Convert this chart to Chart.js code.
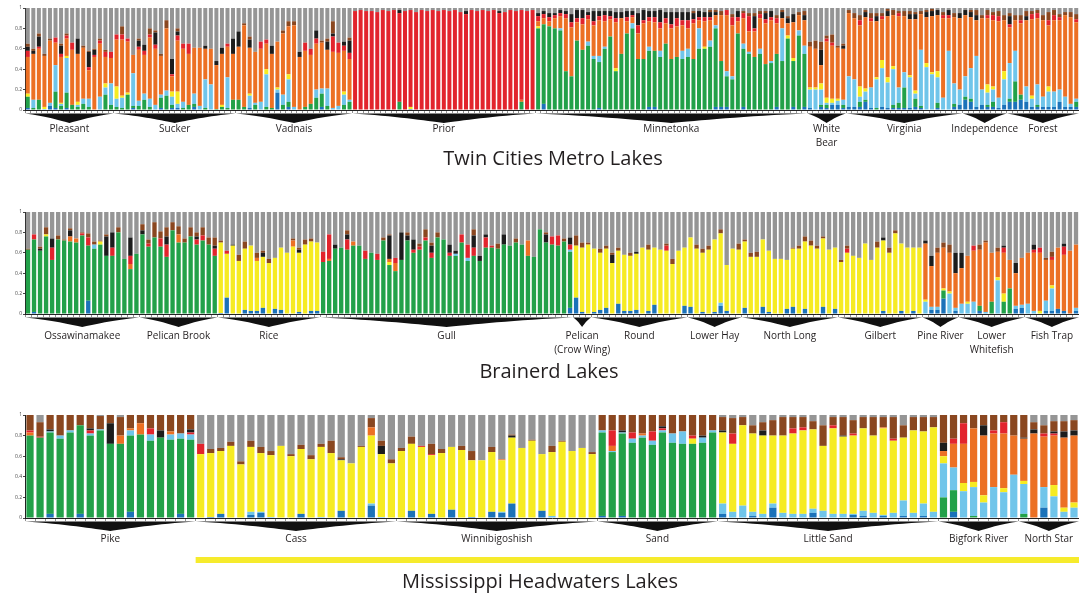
<!DOCTYPE html>
<html>
<head>
<meta charset="utf-8">
<script src="https://cdn.jsdelivr.net/npm/chart.js@4.4.1/dist/chart.umd.min.js"></script>
<style>
  html, body { margin: 0; padding: 0; background: #fff; }
  #wrap { position: relative; width: 1079px; height: 595px; overflow: hidden; }
  canvas { position: absolute; left: 0; }
</style>
</head>
<body>
<div id="wrap">
  <canvas id="metro" width="1079" height="185" style="top:0"></canvas>
  <canvas id="brainerd" width="1079" height="200" style="top:190px"></canvas>
  <canvas id="headwaters" width="1079" height="200" style="top:395px"></canvas>
</div>
<script>
// membership per cluster, in percent, one inner array per lake (missing entries are 0)
// the grey cluster is whatever is left of each fish's 100%

// ---- Twin Cities Metro Lakes ----
const metroLakes = ["Pleasant", "Sucker", "Vadnais", "Prior", "Minnetonka", "White\nBear", "Virginia", "Independence", "Forest"];
const metroCounts = [16, 22, 21, 33, 49, 7, 21, 8, 13];
const metroDarkBlue = [
  [2,0,0,0,4,2,0,2],
  [0,0,0,2,0,0,0,0,2,0,2,2,0,0,3],
  [0,0,2,0,0,0,0,17,0,3,0,0,0,0,0,3],
  [0,0,0,0,0,0,0,0,0,0,1],
  [0,6,0,0,0,0,0,0,0,0, 0,2,0,0,0,0,0,0,0,0, 3,3,0,0,0,0,0,0,0,0, 0,0,3,3,3,0,0,3,0,0, 0,0,0,3,0,0,3,0,3],
  [2,0,3,2,5,5,2],
  [3,3,3,8,2,0,3,2,2,2,2,2,3,2,0,0,2,0,0,3,5],
  [10,8,3,5,3,3,2,5],
  [8,8,10,8,3,3,3,3,3,8,3,3,3]
];
const metroGreen = [
  [11,2,10,0,0,16,4,15,5,3,6,3,0,0,15,5],
  [3,2,15,2,4,10,3,0,10,14,3,0,2,5,3,0,2,0,1,3,2,10],
  [10,3,0,5,0,3,2,0,5,5,0,0,3,6,12,13,4,0,0,5,8],
  [0,0,0,0,0,0,0,0,8,0, 0,0,0,0,0,0,0,0,0,0, 0,0,0,0,0,0,0,0,0,0, 8],
  [80,78,82,80,78,38,33,68,59,63,50,45,60,72,38,55,75,80,50,50,55,55,52,65,50,52,50,52,50,60,60,62,77,45,30,30,75,57,55,52,55,45,46,52,48,70,45,73,52],
  [0,0,2,3,0,0,3],
  [0,0,5,2,0,2,0,0,3,5,20,0,8,2,0,0,5,0,0,3,0],
  [3,3,0,0,2,5,0,0],
  [3,20,5,0,0,2,0,0,0,0,0,0,5]
];
const metroLightBlue = [
  [0,8,0,1,3,26,2,34,0,2,5,8,0,13,7,21],
  [8,10,0,32,5,6,8,5,3,5,8,4,6,0,10,4,28,25,0,0,30,0],
  [0,0,12,2,8,32,0,3,10,22,3,0,0,0,8,5,17,2,4,10,2],
  [],
  [0,0,0,0,2,0,0,0,0,4,3,6,2,0,0,0,0,5,0,0,4,0,6,0,0,0,8,8,0,20,0,6,3,0,5,3,0,5,2,0,5,0,2,0,32,0,0,5,8],
  [18,20,15,2,2,4,5],
  [30,27,5,8,20,28,38,25,35,15,15,30,5,55,42,35,25,12,58,20,15],
  [20,30,50,15,12,12,10,25],
  [35,30,0,15,8,20,10,15,15,12,10,3,3]
];
const metroYellow = [
  [3,0,0,2,0,0,1,2,0,3,0,0,0,0,4],
  [12,2,2,0,0,0,0,0,0,0,5,12,0,0,0,0,0,0,0,2],
  [0,0,2,0,0,5,0,2,0,5,0,0,0,0,0,0,0,0,0,3],
  [0,0,0,0,0,0,0,0,0,0,2],
  [2,0,0,0,0,0,0,0,0,0, 0,0,0,0,3,0,0,0,0,0, 0,0,0,0,0,0,0,0,0,0, 2,0,0,0,0,0,0,0,0,0, 0,0,0,0,0,3,3],
  [2,2,6,5,4,2,0],
  [0,0,10,3,0,2,8,5,3,0,0,2,3,0,4,2,6],
  [0,0,0,0,8,3,0,8],
  [0,0,0,0,3,0,0,5]
];
const metroOrange = [
  [36,45,50,50,61,22,45,17,54,47,50,28,52,52,26,25],
  [46,55,50,18,50,38,60,55,38,61,15,50,52,50,45,57,30,35,43,50,30,45],
  [52,80,45,50,52,25,53,45,60,47,80,52,55,48,45,45,38,55,52,40,40],
  [0,0,0,0,0,0,0,0,0,0, 0,0,0,0,0,0,0,0,0,0, 0,0,0,0,0,0,0,0,0,0, 2],
  [5,6,5,10,12,52,48,18,25,22,30,35,25,17,45,35,12,6,25,35,25,28,22,20,30,30,25,20,35,8,25,20,10,45,55,50,12,25,20,25,30,40,40,30,10,12,35,15,25],
  [40,38,18,55,52,50,50],
  [62,60,60,70,65,55,40,60,50,70,55,55,70,35,45,55,55,78,32,65,70],
  [60,50,35,70,65,65,75,50],
  [35,30,70,65,75,65,75,60,70,68,80,85,75]
];
const metroRed = [
  [6,0,2,0,0,5,3,3,7,0,0,3,2,3,5,6],
  [5,5,3,0,3,4,3,4,0,0,2,5,5,10,0,0,0,0,0,0,3],
  [0,0,0,0,7,4,0,0,0,0,0,0,8,6,5,0,0,15,10,5,6],
  [97,98,97,97,96,98,97,98,87,97,95,96,98,97,98,97,98,97,98,96,94,98,97,98,97,98,95,96,98,97,88,97,98],
  [5,4,4,3,3,4,5,4,6,4,4,4,6,3,4,0,4,2,8,3,4,5,6,5,4,8,5,8,4,3,4,3,0,0,5,8,4,5,15,3,4,4,3,5],
  [0,0,0,3,3],
  [0,0,5,0,3,0,3,0,0,3,0,0,0,0,0,0,0,3,3],
  [0,0,0,0,3,5,5],
  [3,0,3,0,5,5,0,5,5,3,0,0,3]
];
const metroBlack = [
  [4,3,10,0,0,0,8,0,0,15,0,15,5],
  [0,0,0,0,6,6,0,12,0,0,15,4,0,0,0,0,3,0,4,6,0,15],
  [15,0,8,0,0,0,8,0,0,0,0,5,0,0,8,0,8,3,0,4,12],
  [0,0,0,0,0,0,0,0,3,0, 0,0,0,0,0,0,0,0,0,0, 3,0,0,0,0,0,2],
  [3,3,4,2,3,3,8,8,8,3,10,5,4,5,6,6,6,4,12,10,6,6,12,6,12,6,8,8,6,6,5,5,3,0,0,0,6,0,0,12,0,6,6,0,6,5,8,0,5],
  [0,0,15,0,0,0,3],
  [0,0,0,5,0,5,0,5,0,0,0,5,5,0,5,5,5,0,5,0,5],
  [5,5,5],
  [8,0,0,4]
];
const metroBrown = [
  [3,2,3,2,2,0,2,2,0,0,2,1,1,2,2],
  [0,8,0,0,2,0,6,2,2,8,0,3],
  [0,2,3,0,0,0,0,0,3,5,4,0,0,0,0,2,3,12,0,0,3],
  [],
  [0,0,0,0,0,0,0,0,0,0, 0,0,0,0,0,0,0,0,0,0, 0,0,0,0,0,0,0,0,2,0, 0,2,2,4,0,3,0,2,3,3, 3,2,0,3,2,2,0,3,4],
  [5,8,8,3,8,2,2],
  [3,5,5,2,5,3,3,2,5,2,5,3,2,3,2,2,0,3,0,4,0],
  [0,2,5,3,5,3,5,5],
  [3,5,5,5,3,3,5,8,5,3,3,5,5]
];

// ---- Brainerd Lakes ----
const brainerdLakes = ["Ossawinamakee", "Pelican Brook", "Rice", "Gull", "Pelican\n(Crow Wing)", "Round", "Lower Hay", "North Long", "Gilbert", "Pine River", "Lower\nWhitefish", "Fish Trap"];
const brainerdCounts = [19, 13, 17, 42, 3, 16, 9, 16, 14, 6, 11, 9];
const brainerdDarkBlue = [
  [0,2,0,0,0,0,0,0,0,0,13],
  [],
  [1,16,0,0,4,3,3,6,0,5,4,0,0,2,0,3,3],
  [0,0,0,0,0,0,0,0,0,0, 0,0,0,0,0,0,0,0,0,0, 0,0,0,0,0,0,0,0,0,0, 0,0,0,0,0,0,0,0,0,0, 0,6],
  [16,2,0],
  [2,4,6,0,10,3,3,4,0,3,9,0,0,0,0,8],
  [7,0,2,0,2,8,3,0,0],
  [6,0,0,7,2,0,0,5,7,0,5,0,0,7,0,5],
  [0,0,0,0,0,0,0,3,0,0,3,0,3,0],
  [0,4,4,15,0,3],
  [0,0,0,3,0,0,0,0,0,5,6],
  [0,0,0,3,3,5,3,0,3]
];
const brainerdGreen = [
  [63,71,62,76,53,73,72,71,70,77,54,64,68,57,57,80,54,44,59],
  [78,66,75,66,56,82,70,70,76,68,72,68,57],
  [],
  [51,52,64,65,63,67,67,54,60,53,72,48,42,53,72,60,63,72,55,75,73,57,57,70,52,57,52,65,65,64,68,67,70,68,57,56,83,70,68,67,71,55],
  [], [], [], [], [],
  [0,0,0,8,0,0],
  [0,0,0,5,0,12,0,12,25],
  []
];
const brainerdLightBlue = [
  [0,0,0,0,0,0,0,0,0,0,0,4],
  [], [],
  [0,0,0,0,0,0,0,0,0,0, 0,0,0,0,0,0,0,0,0,0, 0,0,2,0,3,0,0,0,0,0, 0,0,0,0,0,0,0,0,0,0, 0,2],
  [], [],
  [0,0,0,0,0,3],
  [], [],
  [12,3,3,0,20,3],
  [10,10,12,0,2,0,33,0,0,3,3],
  [10,3,0,10,22,0,0,0,3]
];
const brainerdYellow = [
  [0,0,0,2,0,0,0,0,0,0,0,0,3],
  [],
  [69,43,67,52,60,64,49,50,50,50,61,60,66,58,68,68,67],
  [0,0,0,0,0,0,0,0,0,0,0,3],
  [51,63,68],
  [62,56,58,50,52,55,54,55,65,60,56,63,62,49,62,57],
  [68,64,58,63,71,68,45,64,63],
  [65,56,56,66,60,54,54,48,57,64,66,67,64,67,63,60],
  [51,60,57,55,69,53,65,69,60,79,66,65,62,65],
  [2,0,0,2,2,0],
  [0,2,0,0,0,0,3,8],
  [0,0,3,0,3]
];
const brainerdOrange = [
  [0,0,0,0,0,0,0,5,4,0,0,0,0,0,0,0,0,5],
  [0,0,0,0,0,0,8],
  [0,0,0,0,0,0,3,0,0,0,0,0,6],
  [0,2,0,0,0,4,0,0,0,0, 0,3,8,0,0,0,0,0,0,0, 0,0,0,0,0,0,0,0,0,0, 0,0,0,0,15],
  [], [], [], [], [],
  [55,40,53,40,38,34],
  [35,45,50,55,68,48,25,40,28,32,46],
  [50,57,57,40,25,60,55,62,62]
];
const brainerdRed = [
  [0,5,0,0,12,0,0,0,0,2,8,0,0,0,8,0,0,8],
  [0,3,0,8,12,0,0,0,0,5,5,0,7],
  [0,3],
  [10,24,0,0,10,0,0,8,0,6, 0,0,5,0,0,3,3,3,5,0, 0,3,0,8,13,8,0,10,2,0, 0,0,0,0,0,0,0,0,8,10, 0,5],
  [],
  [0,0,0,0,0,0,0,0,0,0,0,0,5],
  [], [],
  [0,4],
  [],
  [0,0,5,0,0,0,0,5],
  [0,3,5,0,3,0,8]
];
const brainerdBlack = [
  [0,0,2,0,9,0,0,6,0,0,0,0,0,19,15,0,0,18],
  [4,0,0,0,8,0,0,0,0,3,0,0,3],
  [0,0,1,0,0,0,0,4,0,0,0,0,0,3],
  [0,0,4,0,5,0,0,0,0,0, 0,23,0,27,5,10,0,0,7,0, 0,8,3,0,0,12,5,3,0,0, 10,0,0,0,0,0,0,8,0,0, 0,7],
  [],
  [0,0,0,8,0,0,0,2],
  [], [],
  [0,0,0,0,0,0,0,3],
  [3,10,0,0,0,20],
  [15,0,0,0,0,0,0,2,0,10],
  [0,5,0,0,0,0,3]
];
const brainerdBrown = [
  [1,0,2,7,0,4,1,2,0,1,4,3,1,2,0,5],
  [6,4,15,7,9,8,8,4,9,4,8,7,8],
  [2,0,0,6,7,0,5,2,4,0,0,0,2,2,5,3,0],
  [0,0,0,0,4,0,0,0,0,0, 3,1,0,0,3,0,3,8,3,5, 0,0,0,0,0,6,0,0,0,5, 0,0,4,0,0,0,0,2,0,0, 3,0],
  [10,5,2],
  [0,4,3,2,3,0,3,0,0,5,0,0,2,5,0,0],
  [0,4,4,4,0,4,0,0,6],
  [2,4,5,0,0,0,0,0,1,3,5,5,3,2,0,0],
  [2,3,0,0,0,0,6,0,5,3],
  [0,0,5,5,8,0],
  [0,0,0,5,2,0,4],
  [0,0,0,2,5]
];

// ---- Mississippi Headwaters Lakes ----
const headLakes = ["Pike", "Cass", "Winnibigoshish", "Sand", "Little Sand", "Bigfork River", "North Star"];
const headCounts = [17, 20, 20, 12, 22, 8, 6];
const headDarkBlue = [
  [0,0,4,0,0,4,0,0,0,0,6,0,0,0,0,4],
  [0,1,4,0,0,3,5,0,0,0,4,0,0,0,7,0,0,12],
  [0,7,0,4,0,8,0,1,0,6,5,14,0,0,7],
  [2,0,2],
  [4,0,0,2,0,10,0,0,0,5,0,0,0,3,2,0,2,0,2,0,2],
  [0,6],
  [0,0,10]
];
const headGreen = [
  [80,78,79,77,83,86,80,85,72,72,74,81,75,78,76,73,76],
  [], [],
  [81,64,80,73,78,71,83,73,72,72,73,83],
  [],
  [20,21,0,2],
  [4]
];
const headLightBlue = [
  [0,0,1,3,2,0,2,1,0,0,5,0,6,0,5,5,5],
  [0,0,0,0,0,3,1,1,0,0,0,0,1,0,0,0,0,2,1],
  [0,0,0,0,0,0,0,0,0,0,1,0,0,0,0,2],
  [2,1,1,4,2,4,2,9,12,0,5,2],
  [10,6,12,4,4,4,5,4,4,4,7,4,4,1,5,5,1,5,15,5,12,6],
  [33,22,26,28,15,30,25,42],
  [29,0,20,21,6,10]
];
const headYellow = [
  [],
  [62,62,61,70,52,63,57,60,70,60,63,57,68,63,49,53,69,66,61,53],
  [65,65,69,57,63,61,66,55,56,58,50,64,68,75,55,62,74,65,68,62],
  [0,0,0,0,0,0,0,0,0,5],
  [69,66,78,76,76,66,75,78,81,77,63,83,75,76,80,75,84,70,61,80,70,82],
  [7,0,8,5,7,0,4,0],
  [3,0,0,11,4,5]
];
const headOrange = [
  [3,0,0,0,0,0,0,0,0,8,2,11,0,0,3],
  [0,0,0,0,0,0,0,0,0,0,0,0,0,0,0,0,0,8],
  [0,0,0,0,0,0,0,0,0,0,1],
  [0,5,0,0,2],
  [0,0,0,0,0,0,0,0,0,0,0,0,0,0,0,0,1],
  [5,23,38,52,58,52,53,38],
  [41,82,49,48,68,65]
];
const headRed = [
  [2,1,0,0,0,0,3,0,0,0,0,0,6,0,0,0,2],
  [10],
  [0,0,1,1],
  [0,15,0,6,0,9,2,0,0,3],
  [0,10,0,0,0,0,0,5,3,0,0,3,0,2,0,0,0,2],
  [0,5,20,0,0,3,11],
  [0,0,3,2]
];
const headBlack = [
  [0,0,2,0,0,0,2,0,20,0,0,0,0,7,0,0,3],
  [0,0,0,0,0,0,0,0,0,0,0,0,0,0,1,0,0,0,8],
  [0,0,0,0,0,0,0,0,0,0,0,2],
  [0,0,2,0,0,0,2,0,0,0,2],
  [2,0,0,0,5,0,0,0,0,0,0,0,1],
  [8,0,0,0,10],
  [1,4,0,2,6,5]
];
const headBrown = [
  [15,14,14,20,15,10,13,13,8,18,13,8,13,15,16,18,14],
  [0,4,3,4,3,6,6,4,0,2,4,4,3,12,2,0,1,9,5,4],
  [3,7,0,10,4,0,4,9,0,5,0,1,0,1,0,6,1,0,0,2],
  [15,15,15,17,18,16,11,18,16,20,20,15],
  [13,15,8,8,8,15,18,11,10,8,20,8,18,13,11,18,10,21,12,13,14,10],
  [27,23,8,13,10,15,7,20],
  [22,7,8,10,10,10]
];

// stacking order bottom -> top, grey goes last
const clusterColors = ["#1b72b9", "#22a149", "#70c5ea", "#f6eb22", "#ec7024", "#e2242d", "#1c1c1c", "#8a4720"];
const restColor = "#959595";
const textColor = "#231f20";

function lakeMarks(lakes, counts, cfg) {
  return {
    id: "lakeMarks",
    afterDraw(chart) {
      const { ctx, chartArea, scales } = chart;
      const x = scales.x;
      const pitch = (chartArea.right - chartArea.left) / chart.data.labels.length;
      const yt = chartArea.bottom + 3.5;
      const yTip = chartArea.bottom + 13;
      ctx.save();
      let start = 0;
      counts.forEach((n, g) => {
        const x0 = x.getPixelForValue(start) - pitch / 2;
        const x1 = x.getPixelForValue(start + n - 1) + pitch / 2;
        const xc = (x0 + x1) / 2;
        const half = (x1 - x0) / 2;
        // wedge under each lake, thin at the ends and pointed in the middle
        ctx.beginPath();
        ctx.moveTo(x0, yt);
        ctx.lineTo(x1, yt);
        ctx.bezierCurveTo(xc + half * 0.55, yt + 2.2, xc + half * 0.18, yTip - 2, xc, yTip);
        ctx.bezierCurveTo(xc - half * 0.18, yTip - 2, xc - half * 0.55, yt + 2.2, x0, yt);
        ctx.closePath();
        ctx.fillStyle = "#111";
        ctx.fill();

        ctx.fillStyle = textColor;
        ctx.font = "10px 'Open Sans'";
        ctx.textAlign = "center";
        ctx.textBaseline = "alphabetic";
        lakes[g].split("\n").forEach((line, k) => {
          ctx.fillText(line, xc, chartArea.bottom + cfg.labelGap + k * 14);
        });
        start += n;
      });

      if (cfg.band) {
        let bandStart = 0;
        for (let g = 0; g < cfg.band.fromGroup; g++) bandStart += counts[g];
        const bx = x.getPixelForValue(bandStart) - pitch / 2;
        ctx.fillStyle = "#f6eb2c";
        ctx.fillRect(bx, cfg.band.y, chart.width - bx, cfg.band.h);
      }

      ctx.fillStyle = textColor;
      ctx.font = "20px 'Open Sans'";
      ctx.textAlign = "center";
      ctx.textBaseline = "alphabetic";
      ctx.fillText(cfg.title, cfg.titleX, cfg.titleY);
      ctx.restore();
    }
  };
}

function buildPanel(id, lakes, counts, layers, cfg) {
  const labels = [];
  lakes.forEach((lake, g) => {
    for (let i = 0; i < counts[g]; i++) labels.push(lake.replace("\n", " ") + " " + (i + 1));
  });

  const series = layers.map((layer) => {
    const out = [];
    counts.forEach((n, g) => {
      for (let i = 0; i < n; i++) out.push(layer[g][i] || 0);
    });
    return out;
  });
  // grey = rest of the membership
  const rest = labels.map((_, i) => Math.max(0, 100 - series.reduce((s, arr) => s + arr[i], 0)));

  const datasets = series.map((data, k) => ({
    label: "cluster " + (k + 1),
    data: data,
    backgroundColor: clusterColors[k],
    borderWidth: 0,
    barPercentage: cfg.barPct,
    categoryPercentage: 1,
  }));
  datasets.push({
    label: "cluster " + (series.length + 1),
    data: rest,
    backgroundColor: restColor,
    borderWidth: 0,
    barPercentage: cfg.barPct,
    categoryPercentage: 1,
  });

  const canvas = document.getElementById(id);
  return new Chart(canvas.getContext("2d"), {
    type: "bar",
    data: { labels: labels, datasets: datasets },
    options: {
      responsive: false,
      animation: false,
      devicePixelRatio: 1,
      layout: { padding: { top: cfg.top, left: 0, right: 0, bottom: 0 } },
      plugins: {
        legend: { display: false },
        tooltip: { enabled: false },
      },
      scales: {
        x: {
          stacked: true,
          offset: true,
          border: { display: true, color: "#222", width: 1 },
          grid: { display: true, drawOnChartArea: false, drawTicks: true, tickLength: 3, color: "#444", lineWidth: 0.6 },
          ticks: { display: false, autoSkip: false },
          afterFit: (s) => { s.height = cfg.below; },
        },
        y: {
          stacked: true,
          min: 0,
          max: 100,
          border: { display: true, color: "#222", width: 1 },
          grid: { drawOnChartArea: false, tickLength: 2, color: "#444" },
          ticks: {
            stepSize: 20,
            padding: 1,
            color: "#444",
            font: { size: 5, family: "'Open Sans'" },
            callback: (v) => (v === 0 ? "0" : v === 100 ? "1" : (v / 100).toFixed(1)),
          },
          afterFit: (s) => { s.width = 25; },
        },
      },
    },
    plugins: [lakeMarks(lakes, counts, cfg)],
  });
}

buildPanel("metro", metroLakes, metroCounts,
  [metroDarkBlue, metroGreen, metroLightBlue, metroYellow, metroOrange, metroRed, metroBlack, metroBrown],
  { top: 8, below: 75, barPct: 0.72, labelGap: 22, title: "Twin Cities Metro Lakes", titleX: 553, titleY: 165 });

buildPanel("brainerd", brainerdLakes, brainerdCounts,
  [brainerdDarkBlue, brainerdGreen, brainerdLightBlue, brainerdYellow, brainerdOrange, brainerdRed, brainerdBlack, brainerdBrown],
  { top: 22, below: 76, barPct: 0.72, labelGap: 25, title: "Brainerd Lakes", titleX: 549, titleY: 188 });

buildPanel("headwaters", headLakes, headCounts,
  [headDarkBlue, headGreen, headLightBlue, headYellow, headOrange, headRed, headBlack, headBrown],
  { top: 20, below: 77, barPct: 0.72, labelGap: 24, title: "Mississippi Headwaters Lakes", titleX: 540, titleY: 193,
    band: { fromGroup: 1, y: 162, h: 6 } });
</script>
</body>
</html>
